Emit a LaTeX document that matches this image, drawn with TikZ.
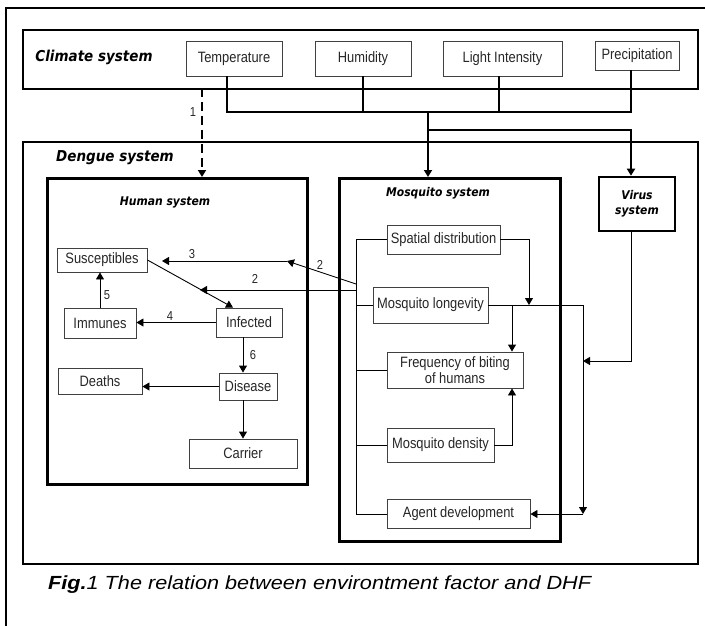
\documentclass[tikz,border=0pt]{standalone}
\usepackage{fontspec}
\usepackage{graphicx}
\setmainfont{Liberation Sans}
\newfontfamily\boxfont[FakeStretch=0.86]{Liberation Sans}
\newfontfamily\titlefont[FakeStretch=0.9]{DejaVu Sans}
\usetikzlibrary{arrows.meta}
\begin{document}
\begin{tikzpicture}[x=1pt,y=-1pt,
  sbox/.style={draw=black!75, line width=0.9pt, inner sep=0pt, align=center,
    font=\boxfont\fontsize{15}{16}\selectfont, text=black!85},
  tbox/.style={draw=black, line width=2.6pt, inner sep=0pt},
  mbox/.style={draw=black, line width=1.8pt, inner sep=0pt},
  ttl/.style={font=\titlefont\bfseries\itshape\fontsize{15}{17}\selectfont},
  sttl/.style={font=\titlefont\bfseries\itshape\fontsize{12}{15}\selectfont, align=center},
  num/.style={font=\boxfont\fontsize{13}{15}\selectfont, text=black!85, inner sep=0pt},
  conn/.style={line width=0.9pt, draw=black},
  thk/.style={line width=1.8pt, draw=black},
  arr/.style={-{Triangle[length=7pt,width=8pt]}},
]
\useasboundingbox (0,0) rectangle (705,626);
% outer frame (partial)
\draw[line width=2pt] (6,626) -- (6,8) -- (705,8);

% climate system
\node[mbox, anchor=north west, minimum width=675pt, minimum height=59pt] (climate) at (22,29) {};
\node[ttl] (climatelbl) at (94,57) {Climate system};
\node[sbox, minimum width=96pt, minimum height=35pt] (temp) at (234,58.5) {Temperature};
\node[sbox, minimum width=96pt, minimum height=35pt] (humid) at (363,58.5) {Humidity};
\node[sbox, minimum width=119pt, minimum height=35pt] (light) at (502.5,58.5) {Light Intensity};
\node[sbox, minimum width=84pt, minimum height=29pt] (precip) at (637,55.5) {Precipitation};

% dengue system
\node[mbox, anchor=north west, minimum width=675pt, minimum height=422pt] (dengue) at (22,141) {};
\node[ttl] (denguelbl) at (115,158) {Dengue system};

% human system
\node[tbox, anchor=north west, minimum width=260pt, minimum height=306pt] (human) at (46,177) {};
\node[sttl] (humanlbl) at (165,202) {Human system};
\node[sbox, minimum width=90pt, minimum height=24pt] (susc) at (102,260) {Susceptibles};
\node[sbox, minimum width=72pt, minimum height=30pt] (imm) at (100,323) {Immunes};
\node[sbox, minimum width=66pt, minimum height=29pt] (inf) at (249,322.5) {Infected};
\node[sbox, minimum width=84pt, minimum height=26pt] (deaths) at (100,381) {Deaths};
\node[sbox, minimum width=58pt, minimum height=27pt] (disease) at (248,386.5) {Disease};
\node[sbox, minimum width=108pt, minimum height=29pt] (carrier) at (243,453.5) {Carrier};

% mosquito system
\node[tbox, anchor=north west, minimum width=221pt, minimum height=363pt] (mosq) at (338,177) {};
\node[sttl] (mosqlbl) at (438,193) {Mosquito system};
\node[sbox, minimum width=113pt, minimum height=29pt] (spatial) at (443.5,239.5) {Spatial distribution};
\node[sbox, minimum width=115pt, minimum height=36pt] (longev) at (430.5,305) {Mosquito longevity};
\node[sbox, minimum width=136pt, minimum height=36pt] (freq) at (455,370) {Frequency of biting\\of humans};
\node[sbox, minimum width=107pt, minimum height=34pt] (density) at (440.5,445) {Mosquito density};
\node[sbox, minimum width=143pt, minimum height=29pt] (agent) at (458.5,514) {Agent development};

% virus system
\node[tbox, minimum width=76pt, minimum height=54pt, sttl] (virus) at (637,204) {Virus\\system};

% climate connectors
\coordinate (tT) at ([xshift=-7pt]temp.south);
\coordinate (lT) at ([xshift=-3.5pt]light.south);
\coordinate (pT) at ([xshift=-6pt]precip.south);
\coordinate (busL) at (227,112);
\coordinate (busR) at (631,112);
\coordinate (jM) at (428,112);
\coordinate (jV) at (428,130);
\coordinate (vT) at ([xshift=-6pt]virus.north);
\draw[thk] (tT) |- (busR) -- (pT);
\draw[thk] (humid.south) -- (humid.south |- busL);
\draw[thk] (lT) -- (lT |- busL);
\draw[thk,arr] (jM) -- (jM |- mosq.north);
\draw[thk,arr] (jV) -| (vT);

% dashed link 1
\coordinate (dT) at (202,88);
\draw[thk,arr,dash pattern=on 9pt off 5pt] (dT) -- (dT |- human.north);
\node[num] (n1) at (193,112) {1};

% human system connectors
\draw[conn,arr] (imm.north) -- (imm.north |- susc.south);
\node[num] (n5) at (107,295) {5};
\draw[conn,arr] (inf.west) -- (inf.west -| imm.east);
\node[num] (n4) at (170,316) {4};
\coordinate (iA) at ([xshift=-16pt]inf.north);
\draw[conn,arr] (susc.east) -- (iA);
\coordinate (iB) at ([xshift=-6pt]inf.south);
\draw[conn,arr] (iB) -- (iB |- disease.north);
\node[num] (n6) at (253,355) {6};
\draw[conn,arr] (disease.west) -- (disease.west -| deaths.east);
\draw[conn,arr] (iB |- disease.south) -- (iB |- carrier.north);

% mosquito -> human arrows
\coordinate (m2a) at (356,290);
\coordinate (d2) at (200,290);
\coordinate (m2b) at (356,284);
\coordinate (p3) at (287,261);
\coordinate (s3) at (162,261);
\draw[conn,arr] (m2a) -- (d2);
\draw[conn,arr] (m2b) -- (p3);
\draw[conn,arr] (p3) -- (s3);
\node[num] (n2a) at (255,279) {2};
\node[num] (n3) at (192,254) {3};
\node[num] (n2b) at (320,265) {2};

% mosquito system internal
\coordinate (busM) at (356,0);
\coordinate (sX) at (529,0);
\coordinate (fX) at (512,0);
\coordinate (rX) at (583,0);
\coordinate (vJ) at (583,361);
\coordinate (vB) at ([xshift=-6pt]virus.south);
\draw[conn] (spatial.west) -- (spatial.west -| busM) -- (agent.west -| busM) -- (agent.west);
\draw[conn] (longev.west -| busM) -- (longev.west);
\draw[conn] (freq.west -| busM) -- (freq.west);
\draw[conn] (density.west -| busM) -- (density.west);
\draw[conn,arr] (spatial.east) -| (sX |- longev.east);
\draw[conn,arr] (longev.east) -| (rX |- agent.east);
\draw[conn,arr] (rX |- agent.east) -- (agent.east);
\draw[conn,arr] (fX |- longev.east) -- (fX |- freq.north);
\draw[conn,arr] (density.east) -| (fX |- freq.south);
\draw[conn,arr] (vB) |- (vJ);

% caption
\node[anchor=west, inner sep=0pt, font=\fontsize{19}{21}\selectfont\itshape] (caption) at (48,585)
  {\scalebox{1.14}[1]{\textbf{Fig.}1 The relation between environtment factor and DHF}};
\end{tikzpicture}
\end{document}
